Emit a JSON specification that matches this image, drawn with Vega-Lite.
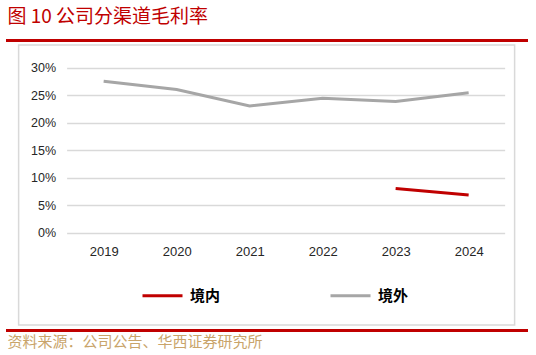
{
  "$schema": "https://vega.github.io/schema/vega-lite/v6.json",
  "padding": {"left": 5, "top": 7, "right": 5, "bottom": 5},
  "background": "white",
  "title": {"text": "图 10 公司分渠道毛利率", "anchor": "start", "frame": "bounds", "font": "Noto Sans CJK SC", "fontSize": 19, "fontWeight": "normal", "color": "#c00000", "baseline": "top", "offset": 12, "dx": 2},
  "data": {"values": [
    {"year": "2019", "channel": "境外", "value": 0.276},
    {"year": "2020", "channel": "境外", "value": 0.261},
    {"year": "2021", "channel": "境外", "value": 0.231},
    {"year": "2022", "channel": "境外", "value": 0.245},
    {"year": "2023", "channel": "境外", "value": 0.239},
    {"year": "2024", "channel": "境外", "value": 0.255},
    {"year": "2023", "channel": "境内", "value": 0.081},
    {"year": "2024", "channel": "境内", "value": 0.069}
  ]},
  "spacing": 2,
  "center": true,
  "vconcat": [
    {
      "width": 522, "height": 3,
      "view": {"fill": "#c00000", "stroke": null},
      "mark": {"type": "rule", "opacity": 0},
      "encoding": {}
    },
    {
      "width": 496, "height": 280,
      "view": {"stroke": "#d9d9d9", "strokeWidth": 1.5},
      "mark": {"type": "line", "strokeWidth": 3},
      "encoding": {
        "x": {"field": "year", "type": "ordinal",
          "scale": {"type": "point", "padding": 0.8973, "align": 0.649},
          "axis": {"orient": "bottom", "offset": -92, "domain": false, "ticks": false, "labelPadding": 12, "labelAngle": 0, "labelFontSize": 13, "labelColor": "#262626", "labelFont": "Liberation Sans", "title": null, "grid": false}},
        "y": {"field": "value", "type": "quantitative",
          "scale": {"domain": [-0.1673, 0.3418], "nice": false, "zero": false},
          "axis": {"values": [0, 0.05, 0.1, 0.15, 0.2, 0.25, 0.3], "format": ".0%", "offset": -48, "domain": false, "ticks": true, "tickSize": -438, "tickColor": "#d9d9d9", "tickWidth": 1.5, "labelPadding": 449, "grid": false, "title": null, "labelFontSize": 12.5, "labelColor": "#262626", "labelFont": "Liberation Sans"}},
        "color": {"field": "channel", "type": "nominal",
          "scale": {"domain": ["境内", "境外"], "range": ["#c00000", "#a6a6a6"]},
          "legend": {"orient": "none", "legendX": 135, "legendY": 235, "direction": "horizontal", "title": null, "symbolType": "stroke", "symbolSize": 1600, "symbolStrokeWidth": 3, "labelOffset": 6, "columnPadding": 103, "labelFont": "Noto Sans CJK SC", "labelFontSize": 15, "labelFontWeight": "bold", "labelColor": "#000000", "padding": 0}}
      }
    },
    {
      "width": 522, "height": 3,
      "view": {"fill": "#c00000", "stroke": null},
      "title": {"text": "资料来源：公司公告、华西证券研究所", "orient": "bottom", "anchor": "start", "frame": "bounds", "font": "Noto Sans CJK SC", "fontSize": 15, "fontWeight": "normal", "color": "#c9a46a", "baseline": "top", "offset": 3, "dx": 2},
      "mark": {"type": "rule", "opacity": 0},
      "encoding": {}
    }
  ]
}
